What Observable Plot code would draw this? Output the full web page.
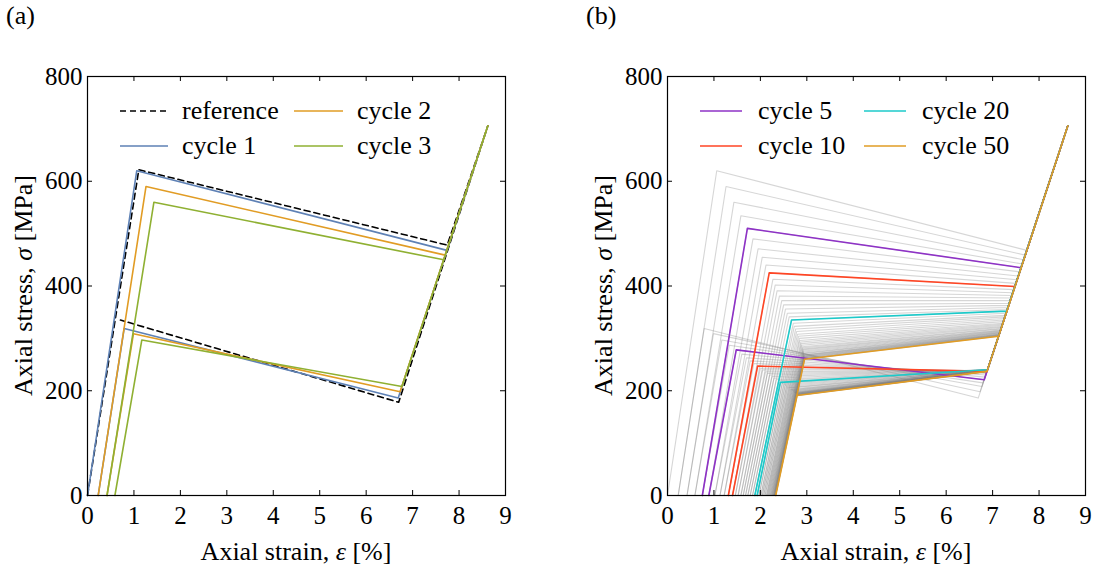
<!DOCTYPE html>
<html><head><meta charset="utf-8">
<script src="https://cdn.jsdelivr.net/npm/d3@7"></script>
<script src="https://cdn.jsdelivr.net/npm/@observablehq/plot@0.6"></script>
<style>
body{margin:0;background:#fff;}
#wrap{position:relative;width:1097px;height:573px;overflow:hidden;background:#fff;}
#wrap svg{position:absolute;top:0;}
</style></head><body><div id="wrap"></div>
<script>
// ---- ticks ----
const xTicks = [0,1,2,3,4,5,6,7,8,9];
const yTicks = [0,200,400,600,800];

// ---- reference (dashed) curve ----
const refStrain = [0, 1.105, 7.745, 8.62, 6.70, 0.71];
const refStress = [0, 622, 478, 706, 178, 335];

// common tip of every cycle
const tipStrain = 8.62;
const tipStress = 706;

// residual strain at zero stress after cycle n (index 0 = start)
const resid = [0, 0.23, 0.42, 0.59, 0.75, 0.89, 1.02, 1.13, 1.22, 1.31, 1.40, 1.46, 1.52, 1.58, 1.63, 1.68, 1.73, 1.78, 1.83, 1.88, 1.93, 1.97, 2.01, 2.04, 2.07, 2.10, 2.13, 2.15, 2.17, 2.19, 2.21, 2.225, 2.24, 2.25, 2.26, 2.27, 2.28, 2.285, 2.29, 2.295, 2.30, 2.305, 2.31, 2.313, 2.316, 2.319, 2.322, 2.325, 2.327, 2.329, 2.33];

// upper plateau start (cycles 1..50)
const yieldStrain = [1.06, 1.26, 1.43, 1.58, 1.72, 1.84, 1.95, 2.04, 2.12, 2.19, 2.27, 2.32, 2.36, 2.41, 2.46, 2.50, 2.54, 2.58, 2.62, 2.67, 2.71, 2.73, 2.76, 2.78, 2.80, 2.82, 2.84, 2.85, 2.87, 2.88, 2.89, 2.90, 2.91, 2.92, 2.92, 2.93, 2.93, 2.93, 2.94, 2.94, 2.94, 2.94, 2.945, 2.946, 2.946, 2.947, 2.948, 2.949, 2.949, 2.95];
const yieldStress = [620, 590, 560, 534, 510, 490, 471, 455, 440, 425, 413, 402, 391, 381, 372, 364, 356, 348, 341, 335, 329, 323, 318, 313, 308, 304, 300, 296, 293, 290, 287, 284, 282, 280, 278, 276, 274, 272, 271, 269, 268, 267, 266, 265, 264, 263, 262, 261, 260.5, 260];

// upper plateau end
const topEndStrain = [7.74, 7.70, 7.67, 7.64, 7.61, 7.58, 7.55, 7.53, 7.50, 7.48, 7.46, 7.43, 7.42, 7.40, 7.38, 7.36, 7.34, 7.33, 7.32, 7.30, 7.29, 7.27, 7.26, 7.25, 7.24, 7.23, 7.22, 7.21, 7.20, 7.20, 7.19, 7.18, 7.18, 7.17, 7.17, 7.16, 7.16, 7.16, 7.15, 7.15, 7.15, 7.14, 7.14, 7.14, 7.14, 7.13, 7.13, 7.13, 7.13, 7.13];
const topEndStress = [468, 459, 450, 442, 435, 427, 419, 412, 405, 399, 393, 387, 382, 377, 372, 367, 363, 359, 355, 352, 348, 344, 341, 338, 335, 332, 329, 327, 325, 323, 321, 319, 318, 316, 315, 314, 313, 312, 311, 310, 309, 308, 307.5, 307, 306.5, 306, 305.5, 305, 304.5, 304];

// lower plateau start (right end, on unloading)
const lowEndStrain = [6.69, 6.73, 6.77, 6.79, 6.82, 6.84, 6.85, 6.86, 6.87, 6.88, 6.88, 6.88, 6.89, 6.89, 6.89, 6.89, 6.89, 6.89, 6.89, 6.89, 6.89, 6.89, 6.89, 6.89, 6.89, 6.89, 6.89, 6.89, 6.89, 6.89, 6.88, 6.88, 6.88, 6.88, 6.88, 6.88, 6.88, 6.88, 6.88, 6.88, 6.88, 6.88, 6.88, 6.88, 6.88, 6.88, 6.88, 6.88, 6.88, 6.88];
const lowEndStress = [186, 198, 208, 215, 221, 226, 230, 233, 235, 237, 238, 238.5, 239, 239, 239.5, 240, 240, 240, 240, 240, 240, 240, 240, 239.5, 239.5, 239.5, 239, 239, 239, 239, 238.5, 238.5, 238.5, 238.5, 238.5, 238, 238, 238, 238, 238, 237.5, 237.5, 237.5, 237.5, 237.5, 237, 237, 237, 237, 237];

// lower plateau end (left corner)
const lowStartStrain = [0.79, 0.99, 1.17, 1.33, 1.48, 1.60, 1.70, 1.78, 1.86, 1.94, 2.00, 2.05, 2.11, 2.15, 2.20, 2.25, 2.29, 2.34, 2.39, 2.43, 2.47, 2.50, 2.53, 2.56, 2.58, 2.61, 2.63, 2.65, 2.67, 2.68, 2.70, 2.71, 2.72, 2.73, 2.74, 2.75, 2.75, 2.76, 2.76, 2.76, 2.77, 2.77, 2.77, 2.78, 2.78, 2.78, 2.78, 2.79, 2.79, 2.79];
const lowStartStress = [319, 309, 297, 287, 278, 270, 263, 257, 252, 247, 243, 240, 236, 233, 230, 227, 224, 221, 219, 216, 214, 212, 210, 208, 206, 205, 203, 202, 201, 200, 199, 198, 197, 196.5, 196, 195.5, 195, 194.5, 194, 193.5, 193, 193, 192.5, 192.5, 192, 192, 191.5, 191.5, 191, 191];

// series definitions
const panelACycles = [1, 2, 3];
const panelALabels = ["cycle 1", "cycle 2", "cycle 3"];
const panelAColors = ["#5E81B5", "#E19C24", "#8FB032"];
const panelBCycles = [5, 10, 20, 50];
const panelBLabels = ["cycle 5", "cycle 10", "cycle 20", "cycle 50"];
const panelBColors = ["#8E32C6", "#FF4524", "#1CCACA", "#E19C24"];
const allCycles = d3.range(1, 51);

// ---- build tables ----
function cycleRows(n) {
  const i = n - 1;
  return [
    {strain: resid[i], stress: 0},
    {strain: yieldStrain[i], stress: yieldStress[i]},
    {strain: topEndStrain[i], stress: topEndStress[i]},
    {strain: tipStrain, stress: tipStress},
    {strain: lowEndStrain[i], stress: lowEndStress[i]},
    {strain: lowStartStrain[i], stress: lowStartStress[i]},
    {strain: resid[n], stress: 0}
  ].map(d => ({...d, cycle: n}));
}
const refRows = refStrain.map((s, i) => ({strain: s, stress: refStress[i]}));

const FONT = "'Liberation Serif', 'Times New Roman', serif";
const H = 573, MT = 76, MB = 78, ML = 87;
const innerH = H - MT - MB, innerW = 418;
const TICKFS = 25, LABFS = 26;

function makePanel(dataMarks, width) {
  return Plot.plot({
    width, height: H,
    marginLeft: ML, marginRight: width - ML - innerW, marginTop: MT, marginBottom: MB,
    x: {domain: [0, 9], label: null},
    y: {domain: [0, 800], label: null},
    style: {fontFamily: FONT, fontSize: TICKFS + "px", color: "black", background: "white", overflow: "visible"},
    marks: [
      ...dataMarks,
      Plot.frame({stroke: "black", strokeWidth: 1.2}),
      Plot.ruleX(xTicks, {stroke: "black", insetTop: innerH - 5}),
      Plot.ruleX(xTicks, {stroke: "black", insetBottom: innerH - 5}),
      Plot.ruleY(yTicks, {stroke: "black", insetRight: innerW - 5}),
      Plot.ruleY(yTicks, {stroke: "black", insetLeft: innerW - 5}),
      Plot.axisX(xTicks, {tickSize: 0, tickPadding: 11, fontSize: TICKFS, fontFamily: FONT, label: null}),
      Plot.axisY(yTicks, {tickSize: 0, tickPadding: 5, fontSize: TICKFS, fontFamily: FONT, label: null})
    ]
  });
}

function decorate(svg, tag, legendItems) {
  const s = d3.select(svg);
  s.append("text").attr("x", 6).attr("y", 24).attr("text-anchor", "start")
    .attr("font-size", LABFS).attr("font-family", FONT).text(tag);
  // x label
  const xl = s.append("text").attr("x", ML + innerW / 2).attr("y", 560)
    .attr("text-anchor", "middle").attr("font-size", LABFS).attr("font-family", FONT);
  xl.append("tspan").text("Axial strain, ");
  xl.append("tspan").attr("font-style", "italic").text("ε");
  xl.append("tspan").text(" [%]");
  // y label
  const yl = s.append("text").attr("transform", `translate(32,${MT + innerH / 2}) rotate(-90)`)
    .attr("text-anchor", "middle").attr("font-size", LABFS).attr("font-family", FONT);
  yl.append("tspan").text("Axial stress, ");
  yl.append("tspan").attr("font-style", "italic").text("σ");
  yl.append("tspan").text(" [MPa]");
  // legend
  const g = s.append("g").attr("font-family", FONT).attr("font-size", LABFS).attr("text-anchor", "start");
  legendItems.forEach(it => {
    g.append("line").attr("x1", it.x1).attr("x2", it.x2).attr("y1", it.y).attr("y2", it.y)
      .attr("stroke", it.color).attr("stroke-width", 1.6)
      .attr("stroke-dasharray", it.dash || null);
    g.append("text").attr("x", it.tx).attr("y", it.y + 8).attr("text-anchor", "start").text(it.label);
  });
}

const wrap = document.getElementById("wrap");

// ---- Panel (a) ----
const marksA = [
  Plot.line(refRows, {x: "strain", y: "stress", stroke: "black", strokeWidth: 1.6, strokeDasharray: "6,4"}),
  ...panelACycles.map((n, k) => Plot.line(cycleRows(n), {x: "strain", y: "stress", stroke: panelAColors[k], strokeWidth: 1.6, strokeLinejoin: "round"}))
];
const svgA = makePanel(marksA, 548);
svgA.style.left = "0px";
decorate(svgA, "(a)", [
  {x1: 120, x2: 168, y: 111, tx: 182, label: "reference", color: "black", dash: "6,4"},
  {x1: 120, x2: 168, y: 146, tx: 182, label: panelALabels[0], color: panelAColors[0]},
  {x1: 294, x2: 343, y: 111, tx: 357, label: panelALabels[1], color: panelAColors[1]},
  {x1: 294, x2: 343, y: 146, tx: 357, label: panelALabels[2], color: panelAColors[2]}
]);
wrap.appendChild(svgA);

// ---- Panel (b) ----
const grayRows = allCycles.flatMap(cycleRows);
const marksB = [
  Plot.line(grayRows, {x: "strain", y: "stress", z: "cycle", stroke: "#808080", strokeOpacity: 0.32, strokeWidth: 1.1}),
  ...panelBCycles.map((n, k) => Plot.line(cycleRows(n), {x: "strain", y: "stress", stroke: panelBColors[k], strokeWidth: 1.6, strokeLinejoin: "round"}))
];
const svgB = makePanel(marksB, 517);
svgB.style.left = "580px";
decorate(svgB, "(b)", [
  {x1: 120, x2: 162, y: 111, tx: 178, label: panelBLabels[0], color: panelBColors[0]},
  {x1: 120, x2: 162, y: 146, tx: 178, label: panelBLabels[1], color: panelBColors[1]},
  {x1: 284, x2: 326, y: 111, tx: 342, label: panelBLabels[2], color: panelBColors[2]},
  {x1: 284, x2: 326, y: 146, tx: 342, label: panelBLabels[3], color: panelBColors[3]}
]);
wrap.appendChild(svgB);
</script></body></html>
